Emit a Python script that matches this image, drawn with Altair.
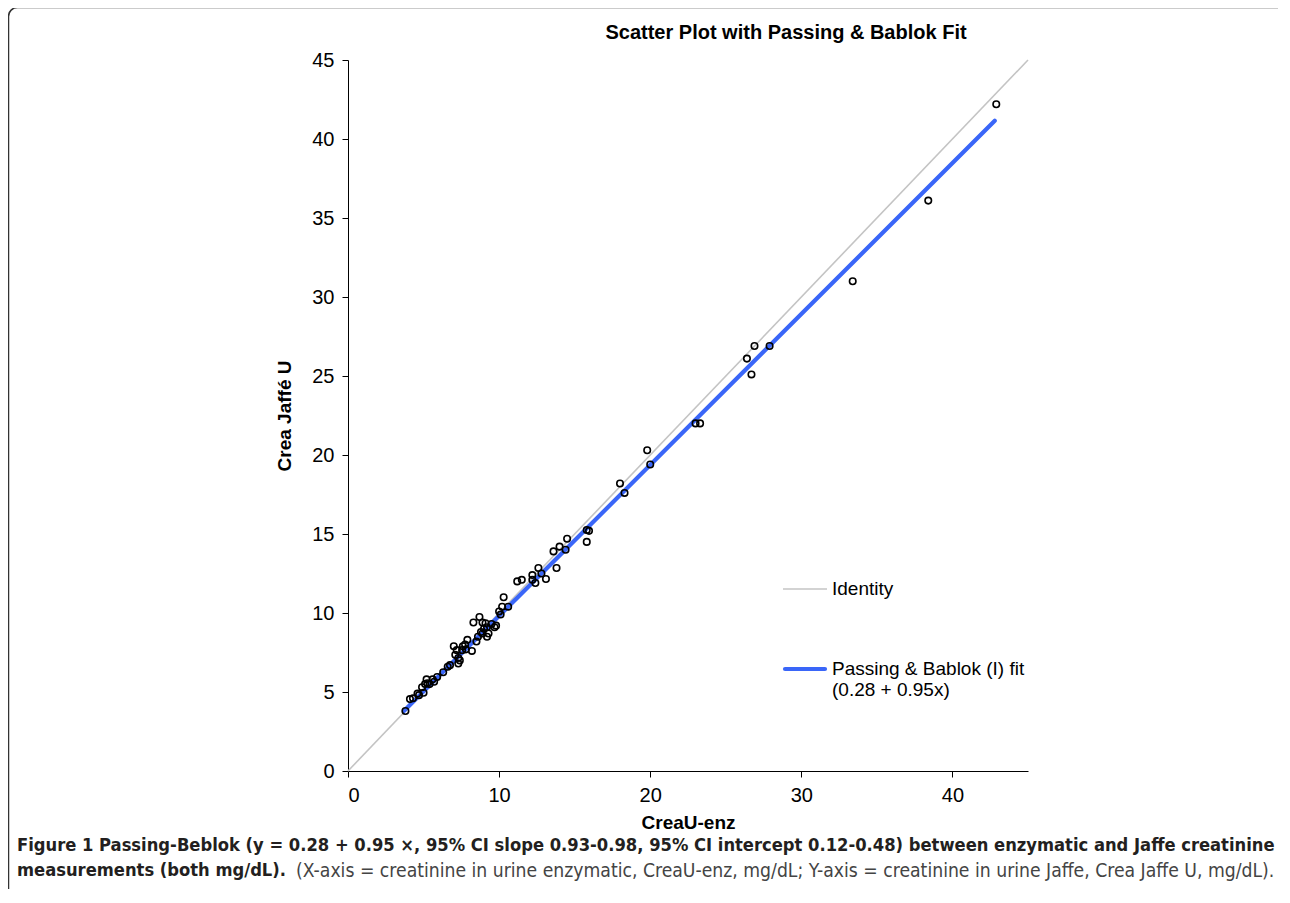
import altair as alt
import pandas as pd

# ---- data ----
x_enz = [3.8, 4.1, 4.3, 4.6, 5.0, 4.9, 5.1, 5.25, 5.2, 5.6, 5.9, 5.7, 6.3, 6.75, 7.3,
         7.1, 7.3, 7.0, 7.2, 7.55, 7.75, 7.9, 8.2, 7.8, 8.3, 8.7, 8.9, 9.2, 9.7, 9.3,
         8.9, 8.6, 9.2, 9.0, 9.8, 10.0, 10.1, 10.2, 10.6, 10.3, 11.2, 11.5, 12.2, 12.4,
         12.2, 12.8, 12.6, 13.1, 13.8, 13.6, 14.0, 14.4, 14.5, 15.8, 15.8, 15.95, 18.0,
         18.3, 19.8, 20.0, 23.0, 23.3, 26.4, 26.7, 26.9, 27.9, 33.4, 38.4, 42.9,
         8.5, 9.5, 7.4, 6.6, 4.7, 5.4, 9.1, 8.8, 7.6]
y_jaffe = [3.8, 4.55, 4.6, 4.9, 4.95, 5.3, 5.5, 5.55, 5.8, 5.8, 5.95, 5.65, 6.25, 6.7, 6.8,
           7.35, 7.15, 7.9, 7.65, 7.65, 8.0, 8.3, 7.6, 7.7, 9.4, 9.75, 9.4, 9.1, 9.1, 8.7,
           8.7, 8.5, 8.5, 9.0, 9.2, 10.1, 9.9, 10.4, 10.4, 11.0, 12.0, 12.1, 12.1, 11.9,
           12.4, 12.5, 12.85, 12.15, 12.85, 13.9, 14.2, 14.0, 14.7, 14.5, 15.25, 15.2, 18.2,
           17.6, 20.3, 19.4, 22.0, 22.0, 26.1, 25.1, 26.9, 26.9, 31.0, 36.1, 42.2,
           8.2, 9.3, 7.0, 6.6, 4.8, 5.5, 9.35, 8.8, 7.9]

identity_x = [0, 45]
identity_y = [0, 45]
fit_x = [3.7, 42.8]
fit_y = [3.8, 41.15]

x_ticks = [0, 10, 20, 30, 40]
y_ticks = [0, 5, 10, 15, 20, 25, 30, 35, 40, 45]

chart_title = "Scatter Plot with Passing & Bablok Fit"
x_title = "CreaU-enz"
y_title = "Crea Jaffé U"
legend_identity = "Identity"
legend_fit = ["Passing & Bablok (I) fit", "(0.28 + 0.95x)"]
caption_line1 = ("Figure 1 Passing-Beblok (y = 0.28 + 0.95 \u00d7, 95% CI slope 0.93-0.98, "
                 "95% CI intercept 0.12-0.48) between enzymatic and Jaffe creatinine")
caption_line2_bold = "measurements (both mg/dL)."
caption_line2 = ("(X-axis = creatinine in urine enzymatic, CreaU-enz, mg/dL; "
                 "Y-axis = creatinine in urine Jaffe, Crea Jaffe U, mg/dL).")

GRAY = "#c4c4c4"
BLUE = "#3a66f8"
AXF = "Liberation Sans, Arial, sans-serif"
CAPF = "Liberation Sans Narrow, DejaVu Sans Condensed, sans-serif"

pts = pd.DataFrame({"x": x_enz, "y": y_jaffe})
idf = pd.DataFrame({"x": identity_x, "y": identity_y})
fdf = pd.DataFrame({"x": fit_x, "y": fit_y})
one = pd.DataFrame({"k": [0]})

xs = alt.Scale(domain=[0, 45], nice=False, zero=True)
ys = alt.Scale(domain=[0, 45], nice=False, zero=True)
xax = alt.Axis(values=x_ticks, title=x_title, titlePadding=8, labelPadding=8)
yax = alt.Axis(values=y_ticks, title=y_title, titlePadding=17, labelPadding=8)

ident = alt.Chart(idf).mark_line(color=GRAY, strokeWidth=1.6).encode(
    x=alt.X("x:Q", scale=xs, axis=xax), y=alt.Y("y:Q", scale=ys, axis=yax))
fit = alt.Chart(fdf).mark_line(color=BLUE, strokeWidth=4.2, strokeCap="round").encode(
    x=alt.X("x:Q", scale=xs, axis=xax), y=alt.Y("y:Q", scale=ys, axis=yax))
scatter = alt.Chart(pts).mark_point(shape="circle", filled=False, stroke="black",
                                    strokeWidth=1.6, size=42, opacity=1).encode(
    x=alt.X("x:Q", scale=xs, axis=xax), y=alt.Y("y:Q", scale=ys, axis=yax))

def txt(s, x, y, **kw):
    return alt.Chart(one).mark_text(**kw).encode(
        x=alt.value(x), y=alt.value(y), text=alt.value(s))

title_t = txt(chart_title, 438, -27, font=AXF, fontSize=20, fontWeight="bold",
              align="center", baseline="middle", color="black")

leg_rule1 = alt.Chart(one).mark_rule(color=GRAY, strokeWidth=1.6).encode(
    x=alt.value(435), x2=alt.value(479), y=alt.value(529))
leg_rule2 = alt.Chart(one).mark_rule(color=BLUE, strokeWidth=4.2, strokeCap="round").encode(
    x=alt.value(437), x2=alt.value(477), y=alt.value(609))
leg_t1 = txt(legend_identity, 484, 529, font=AXF, fontSize=19, align="left",
             baseline="middle", color="black")
leg_t2 = txt(legend_fit, 484, 609, font=AXF, fontSize=19, align="left",
             baseline="middle", color="black", lineHeight=21)

cap1 = txt(caption_line1, -331, 786, font=CAPF, fontSize=18.2, fontWeight="bold",
           align="left", baseline="middle", color="#231f20")
cap2 = txt(caption_line2_bold, -331, 811, font=CAPF, fontSize=18.2, fontWeight="bold",
           align="left", baseline="middle", color="#231f20")
cap3 = txt(caption_line2, -52, 811, font=CAPF, fontSize=19.2, fontWeight="normal",
           align="left", baseline="middle", color="#444444")

frame = alt.Chart(one).mark_rect(filled=False, stroke="#333333", strokeWidth=1.5,
                                 cornerRadius=9).encode(
    x=alt.value(-339.5), x2=alt.value(940), y=alt.value(-52.5), y2=alt.value(850))

chart = alt.layer(frame, ident, fit, scatter, title_t, leg_rule1, leg_rule2, leg_t1,
                  leg_t2, cap1, cap2, cap3).properties(
    width=680, height=711,
    autosize=alt.AutoSizeParams(type="none"),
    padding={"left": 340, "top": 52, "right": 250, "bottom": 118},
).configure_view(stroke=None).configure_axis(
    grid=False, domainColor="black", tickColor="black", tickSize=6,
    labelFont=AXF, labelFontSize=20, labelColor="black",
    titleFont=AXF, titleFontSize=19, titleFontWeight="bold", titleColor="black",
)

chart.save("out.html", embed_options={"renderer": "svg", "actions": False})
